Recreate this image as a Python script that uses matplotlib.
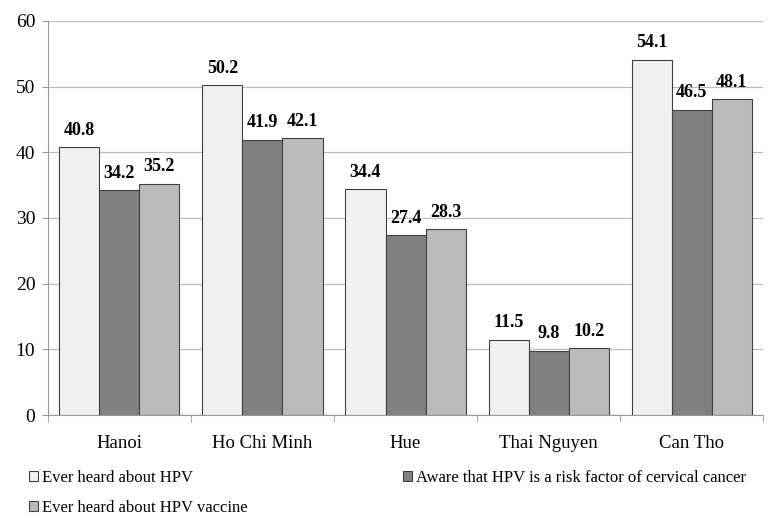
import matplotlib.pyplot as plt
import numpy as np

cities = ['Hanoi', 'Ho Chi Minh', 'Hue', 'Thai Nguyen', 'Can Tho']
heard_hpv = [40.8, 50.2, 34.4, 11.5, 54.1]
aware_risk = [34.2, 41.9, 27.4, 9.8, 46.5]
heard_vaccine = [35.2, 42.1, 28.3, 10.2, 48.1]
series_names = ['Ever heard about HPV',
                'Aware that HPV is a risk factor of cervical cancer',
                'Ever heard about HPV vaccine']
colors = ['#F0F0F0', '#808080', '#BBBBBB']

plt.rcParams['font.family'] = ['Liberation Serif', 'DejaVu Serif']

fig = plt.figure(figsize=(7.71, 5.19), dpi=100)
ax = fig.add_axes([0.062, 0.2, 0.928, 0.76])

x = np.arange(len(cities))
w = 0.28
bars = []
for i, (vals, c) in enumerate(zip([heard_hpv, aware_risk, heard_vaccine], colors)):
    b = ax.bar(x + (i - 1) * w, vals, w, color=c, edgecolor='#404040',
               linewidth=0.8, label=series_names[i], zorder=3)
    bars.append(b)
    for xi, v in zip(x + (i - 1) * w, vals):
        ax.annotate(f'{v:.1f}', (xi, v), xytext=(0, 6), textcoords='offset points',
                    ha='center', va='bottom', fontsize=13, fontweight='bold')

ax.set_xlim(-0.5, len(cities) - 0.5)
ax.set_ylim(0, 60)
ax.set_yticks(range(0, 61, 10))
ax.tick_params(axis='y', labelsize=14, length=4, color='#999999', pad=5)
ax.set_xticks(x)
ax.set_xticklabels(cities, fontsize=13.5)
ax.tick_params(axis='x', length=0, pad=14)
ax.set_xticks(np.arange(-0.5, len(cities)), minor=True)
ax.tick_params(axis='x', which='minor', length=5, color='#999999')
ax.grid(axis='y', color='#BBBBBB', linewidth=0.9, zorder=0)
for s in ['top', 'right']:
    ax.spines[s].set_visible(False)
ax.spines['left'].set_color('#999999')
ax.spines['bottom'].set_color('#999999')

fig.legend(handles=[bars[0], bars[2], bars[1]],
           labels=[series_names[0], series_names[2], series_names[1]],
           loc='upper left', bbox_to_anchor=(0.018, 0.124), ncol=2,
           frameon=False, fontsize=12, handlelength=0.55, handleheight=0.55,
           handletextpad=0.25, columnspacing=9.3, labelspacing=0.85,
           borderpad=0.4)

fig.savefig('out.png', dpi=100)
